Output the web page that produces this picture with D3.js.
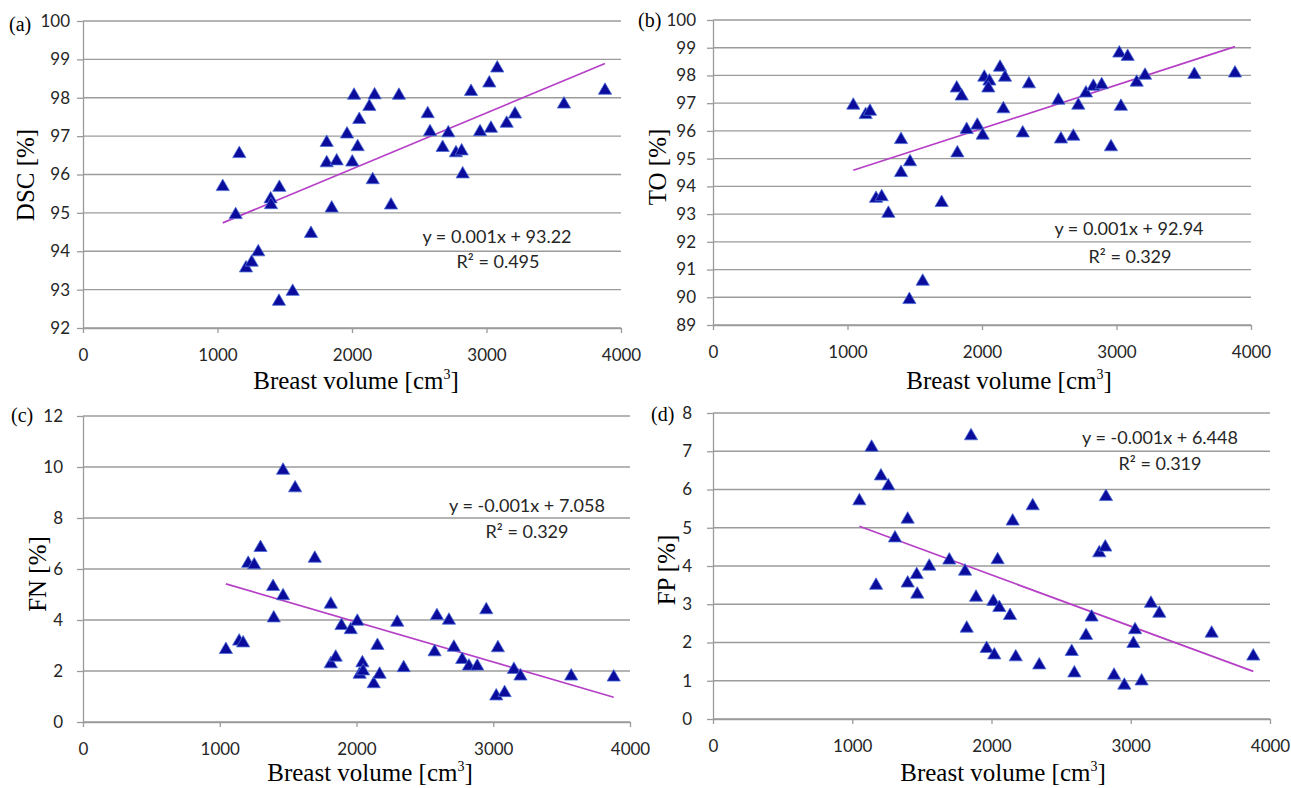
<!DOCTYPE html>
<html>
<head>
<meta charset="utf-8">
<script src="https://cdn.jsdelivr.net/npm/d3@7"></script>
<style>
  body { margin: 0; background: #fff; }
  .tick text { font-family: Lato, sans-serif; fill: #262626; }
</style>
</head>
<body>
<div id="chart"></div>
<script>
// Values: breast volume [cm3] vs. each measure
const volumeA = [1039,1162,1135,1212,1254,1303,1395,1398,1460,1457,1559,1695,1812,1812,1849,1886,1963,2002,2015,2042,2054,2129,2154,2168,2290,2349,2563,2580,2674,2716,2773,2815,2823,2885,2952,3021,3033,3080,3150,3212,3576,3881];
const dscValues = [95.73,96.59,95.0,93.61,93.76,94.03,95.41,95.26,95.71,92.74,93.0,94.51,96.88,96.35,95.17,96.40,97.10,96.37,98.11,96.77,97.48,97.82,95.91,98.12,95.25,98.11,97.63,97.16,96.75,97.13,96.61,96.66,96.06,98.21,97.16,98.43,97.25,98.82,97.38,97.62,97.88,98.24];

const volumeB = [1043,1135,1167,1212,1254,1304,1398,1398,1465,1460,1559,1700,1812,1849,1817,1886,1965,2005,2017,2055,2047,2134,2159,2171,2303,2349,2568,2587,2679,2716,2773,2828,2890,2959,3021,3083,3033,3150,3212,3579,3881];
const toValues = [96.99,96.65,96.77,93.63,93.69,93.09,95.75,94.56,94.95,89.98,90.64,93.48,97.61,97.32,95.27,96.11,96.27,95.91,98.0,97.86,97.61,98.36,96.86,98.0,95.99,97.76,97.17,95.77,95.87,96.99,97.43,97.67,97.73,95.49,98.87,98.75,96.95,97.82,98.07,98.10,98.15];

const volumeC = [1045,1142,1171,1208,1252,1298,1390,1395,1463,1463,1551,1695,1812,1812,1848,1890,1958,2006,2023,2043,2048,2126,2153,2169,2298,2345,2571,2588,2676,2712,2773,2822,2883,2949,3034,3022,3083,3151,3199,3570,3881];
const fnValues = [2.91,3.24,3.17,6.29,6.23,6.91,5.38,4.15,5.02,9.94,9.25,6.49,4.69,2.35,2.61,3.85,3.69,4.02,1.94,2.39,2.07,1.57,3.07,1.94,3.98,2.20,2.82,4.24,4.06,3.0,2.52,2.26,2.26,4.47,2.98,1.09,1.22,2.13,1.87,1.87,1.83];

const volumeD = [1051,1139,1171,1206,1259,1307,1398,1398,1463,1467,1553,1697,1810,1822,1853,1889,1965,2013,2020,2044,2056,2133,2152,2174,2296,2343,2576,2595,2679,2719,2774,2817,2822,2880,2954,3019,3031,3078,3145,3205,3581,3880];
const fpValues = [5.75,7.15,3.54,6.40,6.14,4.78,5.27,3.60,3.82,3.31,4.04,4.20,3.91,2.42,7.45,3.23,1.89,3.12,1.72,4.21,2.96,2.75,5.22,1.67,5.62,1.46,1.81,1.25,2.23,2.71,4.39,4.54,5.86,1.19,0.93,2.02,2.38,1.04,3.07,2.81,2.29,1.69];

const xTicks = [0, 1000, 2000, 3000, 4000];
const yTicksA = [92, 93, 94, 95, 96, 97, 98, 99, 100];
const yTicksB = [89, 90, 91, 92, 93, 94, 95, 96, 97, 98, 99, 100];
const yTicksC = [0, 2, 4, 6, 8, 10, 12];
const yTicksD = [0, 1, 2, 3, 4, 5, 6, 7, 8];

const panelLetters = ['(a)', '(b)', '(c)', '(d)'];
const yTitles = ['DSC [%]', 'TO [%]', 'FN [%]', 'FP [%]'];
const trendSlopes = [0.001462, 0.001572, -0.001569, -0.001341];
const trendIntercepts = [93.22, 92.94, 7.058, 6.448];
const equationTexts = ['y = 0.001x + 93.22', 'y = 0.001x + 92.94', 'y = -0.001x + 7.058', 'y = -0.001x + 6.448'];
const r2Texts = ['R\u00B2 = 0.495', 'R\u00B2 = 0.329', 'R\u00B2 = 0.329', 'R\u00B2 = 0.319'];

const width = 1291;
const height = 788;

const svg = d3.select('#chart')
    .append('svg')
    .attr('width', width)
    .attr('height', height)
    .style('background', '#fff');

// layout of each panel (pixels)
const panels = [
    { xs: volumeA, ys: dscValues, yTicks: yTicksA,
      box: { left: 83, right: 621, top: 21, bottom: 328 },
      yPad: 7, letterPos: [9, 31], yTitlePos: [34, 175], xTitlePos: [356, 389],
      eqPos: [497, 243], r2Pos: [498, 268] },
    { xs: volumeB, ys: toValues, yTicks: yTicksB,
      box: { left: 713, right: 1251, top: 20, bottom: 325 },
      yPad: 11, letterPos: [638, 27], yTitlePos: [666, 167], xTitlePos: [1009, 389],
      eqPos: [1129, 235], r2Pos: [1130, 263] },
    { xs: volumeC, ys: fnValues, yTicks: yTicksC,
      box: { left: 83, right: 630, top: 416, bottom: 722 },
      yPad: 14, letterPos: [11, 422], yTitlePos: [46, 574], xTitlePos: [370, 781],
      eqPos: [527, 512], r2Pos: [527, 538] },
    { xs: volumeD, ys: fpValues, yTicks: yTicksD,
      box: { left: 713, right: 1270, top: 413, bottom: 719 },
      yPad: 15, letterPos: [651, 421], yTitlePos: [675, 570], xTitlePos: [1003, 781],
      eqPos: [1160, 444], r2Pos: [1160, 470] }
];

const triangle = d3.symbol().type(d3.symbolTriangle).size(76);

panels.forEach((p, i) => {
    const b = p.box;
    const x = d3.scaleLinear().domain([0, 4000]).range([b.left, b.right]);
    const y = d3.scaleLinear()
        .domain([p.yTicks[0], p.yTicks[p.yTicks.length - 1]])
        .range([b.bottom, b.top]);

    const g = svg.append('g');

    // horizontal gridlines
    g.append('g')
        .selectAll('line')
        .data(p.yTicks)
        .enter()
        .append('line')
        .attr('x1', b.left)
        .attr('x2', b.right)
        .attr('y1', d => y(d))
        .attr('y2', d => y(d))
        .attr('stroke', '#9b9b9b')
        .attr('stroke-width', 1.3);

    // y axis
    const yAxis = g.append('g')
        .attr('transform', `translate(${b.left},0)`)
        .call(d3.axisLeft(y).tickValues(p.yTicks).tickSize(6).tickSizeOuter(0).tickPadding(p.yPad));

    // x axis
    const xAxis = g.append('g')
        .attr('transform', `translate(0,${b.bottom})`)
        .call(d3.axisBottom(x).tickValues(xTicks).tickFormat(d3.format('d')).tickSize(5).tickSizeOuter(0).tickPadding(16));

    [yAxis, xAxis].forEach(ax => {
        ax.select('.domain').attr('stroke', '#9b9b9b').attr('stroke-width', 1.3);
        ax.selectAll('.tick line').attr('stroke', '#9b9b9b').attr('stroke-width', 1.3);
        ax.selectAll('.tick text').style('font-size', '17px');
    });

    // trendline across the data range
    const ext = d3.extent(p.xs);
    const line = d3.line()
        .x(d => x(d))
        .y(d => y(trendSlopes[i] * d + trendIntercepts[i]));
    g.append('path')
        .datum(ext)
        .attr('d', line)
        .attr('fill', 'none')
        .attr('stroke', '#b540c6')
        .attr('stroke-width', 1.7);

    // triangle markers
    const h = Math.sqrt(76 / (Math.sqrt(3) * 3));
    g.append('g')
        .selectAll('path')
        .data(p.xs.map((v, k) => [v, p.ys[k]]))
        .enter()
        .append('path')
        .attr('d', triangle)
        .attr('transform', d => `translate(${x(d[0])},${y(d[1]) + h / 2})`)
        .attr('fill', '#0b0b9c')
        .attr('stroke', '#4d6fd6')
        .attr('stroke-width', 0.8);

    // equation and R2
    g.append('text')
        .attr('x', p.eqPos[0])
        .attr('y', p.eqPos[1])
        .attr('text-anchor', 'middle')
        .style('font-family', 'Lato, sans-serif')
        .style('font-size', '18px')
        .style('fill', '#262626')
        .text(equationTexts[i]);
    g.append('text')
        .attr('x', p.r2Pos[0])
        .attr('y', p.r2Pos[1])
        .attr('text-anchor', 'middle')
        .style('font-family', 'Lato, sans-serif')
        .style('font-size', '18px')
        .style('fill', '#262626')
        .text(r2Texts[i]);

    // panel letter
    g.append('text')
        .attr('x', p.letterPos[0])
        .attr('y', p.letterPos[1])
        .style('font-family', '"Liberation Serif", serif')
        .style('font-size', '20px')
        .text(panelLetters[i]);

    // y title
    g.append('text')
        .attr('transform', `translate(${p.yTitlePos[0]},${p.yTitlePos[1]}) rotate(-90)`)
        .attr('text-anchor', 'middle')
        .style('font-family', '"Liberation Serif", serif')
        .style('font-size', '25px')
        .text(yTitles[i]);

    // x title with superscript
    const xt = g.append('text')
        .attr('x', p.xTitlePos[0])
        .attr('y', p.xTitlePos[1])
        .attr('text-anchor', 'middle')
        .style('font-family', '"Liberation Serif", serif')
        .style('font-size', '25px');
    xt.append('tspan').text('Breast volume [cm');
    xt.append('tspan').attr('dy', -10).style('font-size', '14px').text('3');
    xt.append('tspan').attr('dy', 10).text(']');
});
</script>
</body>
</html>
